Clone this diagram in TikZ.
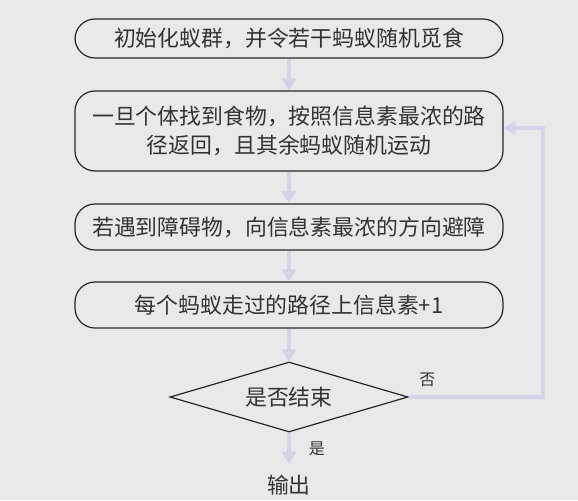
\documentclass[tikz,border=0pt]{standalone}
\usepackage{fontspec}
\setmainfont{Noto Sans CJK SC}
\usetikzlibrary{shapes.geometric, arrows.meta}
\definecolor{bggray}{HTML}{E9E9E9}
\definecolor{flowblue}{HTML}{D3D3EA}
\definecolor{textgray}{HTML}{333333}

\begin{document}
\begin{tikzpicture}[font=\fontsize{16.4pt}{22pt}\selectfont, text=textgray,
block/.style={rectangle, draw=black!85, line width=0.9pt, rounded corners=15pt,
      minimum width=321pt, align=center, inner sep=0pt},
decide/.style={diamond, draw=black!85, line width=0.9pt, shape aspect=3.4,
      minimum width=178.5pt, minimum height=52.5pt, inner sep=0pt},
flow/.style={draw=flowblue, line width=3pt, -{Triangle[width=10.5pt, length=9pt]}},
small/.style={font=\fontsize{12pt}{14pt}\selectfont}]
 \fill[bggray] (-216.75pt,28.875pt) rectangle (216.75pt,-346.125pt);
 \useasboundingbox (-216.75pt,28.875pt) rectangle (216.75pt,-346.125pt);
 \node[block, minimum height=29.25pt] (init) at (0,0) {初始化蚁群，并令若干蚂蚁随机觅食};
 \node[block, minimum height=60pt, below of=init, node distance=69.375pt] (search) {一旦个体找到食物，按照信息素最浓的路\\径返回，且其余蚂蚁随机运动};
 \node[block, minimum height=34.5pt, below of=search, node distance=72pt] (avoid) {若遇到障碍物，向信息素最浓的方向避障};
 \node[block, minimum height=34.5pt, below of=avoid, node distance=58.5pt] (update) {每个蚂蚁走过的路径上信息素+1};
 \node[decide, below of=update, node distance=69pt] (cond) {是否结束};
 \node[inner sep=8pt, below of=cond, node distance=66pt] (out) {输出};

 \draw[flow] (init) -- (search);
 \draw[flow] (search) -- (avoid);
 \draw[flow] (avoid) -- (update);
 \draw[flow] (update) -- (cond);
 \draw[flow] (cond) -- node[small, right=10pt] {是} (out);
 \draw[flow] (cond.east) -- ++(100.5pt,0) |- ([yshift=2.25pt]search.east);
 \node[small] (no) at ([xshift=14pt, yshift=12.75pt]cond.east) {否};
\end{tikzpicture}
\end{document}
